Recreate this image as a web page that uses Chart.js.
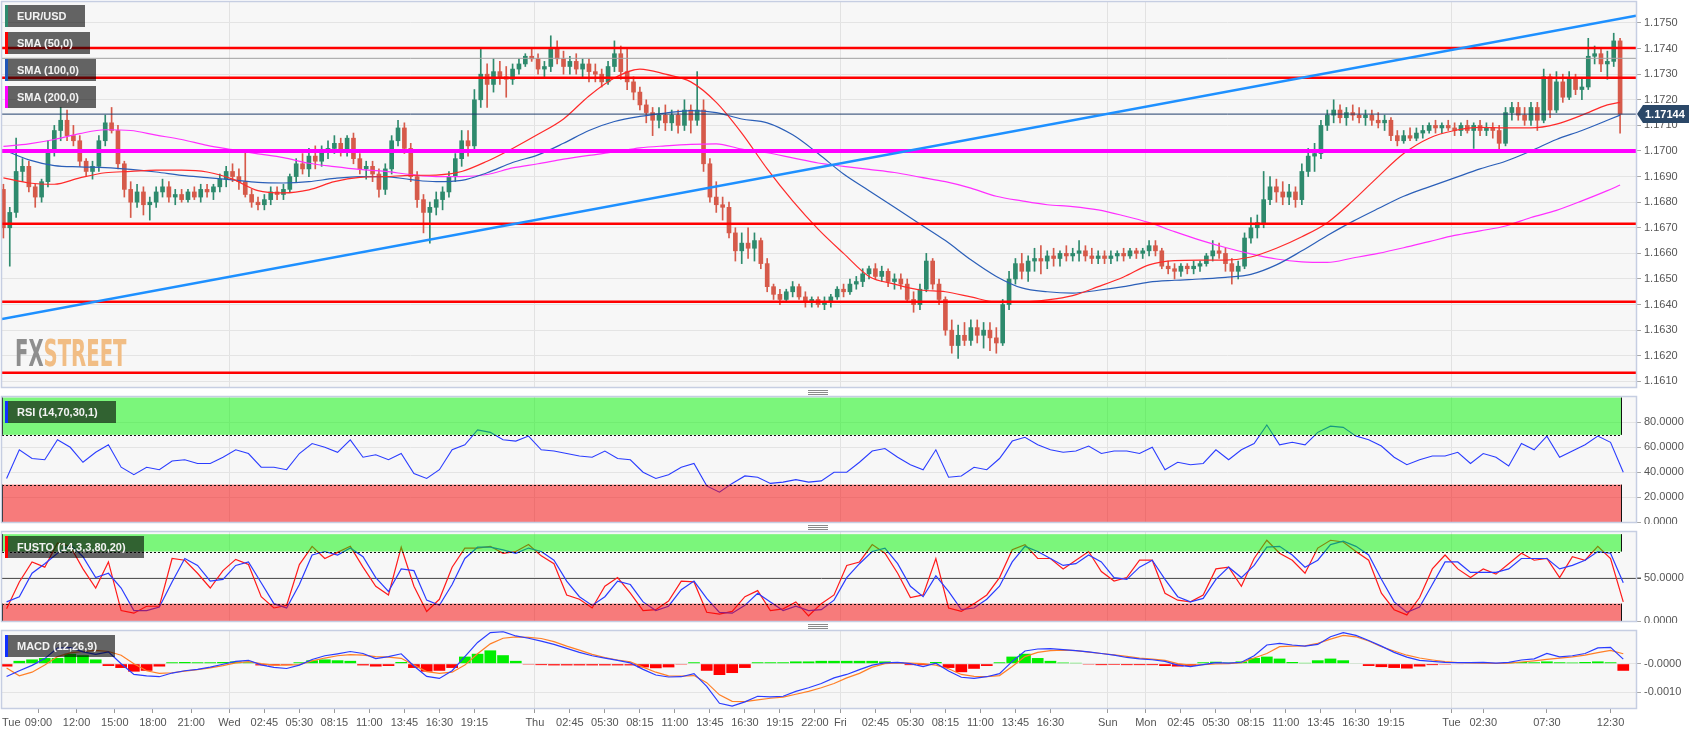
<!DOCTYPE html>
<html>
<head>
<meta charset="utf-8">
<title>EUR/USD 15m</title>
<script src="https://cdn.jsdelivr.net/npm/chart.js@4.4.1/dist/chart.umd.min.js"></script>
<style>
  body { margin: 0; background: #fff; }
  #wrap { position: relative; width: 1707px; height: 734px; overflow: hidden; font-family: "Liberation Sans", Arial, sans-serif; }
  canvas { position: absolute; left: 0; }
  .tag { position: absolute; left: 5px; height: 22px; line-height: 22px; box-sizing: border-box; padding-left: 9px;
         border-left: 3px solid; background: rgba(0,0,0,0.6); color: #f2f2f2; font-weight: bold; font-size: 11px; white-space: nowrap; }
  .grip { position: absolute; left: 808px; width: 20px; height: 5px;
          background: repeating-linear-gradient(#8a8a8a 0px, #8a8a8a 1px, transparent 1px, transparent 2px); }
  .wm { position: absolute; left: 15px; top: 335px; font: bold 37px/37px "Liberation Sans Narrow", "DejaVu Sans Condensed", sans-serif;
        transform: scaleX(0.59); transform-origin: 0 0; white-space: nowrap; }
</style>
</head>
<body>
<div id="wrap">
  <canvas id="cMain" width="1707" height="389" style="top:0"></canvas>
  <canvas id="cRsi" width="1707" height="129" style="top:395px"></canvas>
  <canvas id="cSto" width="1707" height="93" style="top:530px"></canvas>
  <canvas id="cMacd" width="1707" height="105" style="top:629px"></canvas>

  <div class="wm"><span style="color:#8e8e8e">FX</span><span style="color:#f1bd84">STREET</span></div>

  <div class="tag" style="top:5px;width:80px;border-color:#2e8b6e">EUR/USD</div>
  <div class="tag" style="top:32px;width:85px;border-color:#ff0000">SMA (50,0)</div>
  <div class="tag" style="top:59px;width:91px;border-color:#2056b8">SMA (100,0)</div>
  <div class="tag" style="top:86px;width:91px;border-color:#ff00ff">SMA (200,0)</div>
  <div class="tag" style="top:401px;width:111px;border-color:#1030ff">RSI (14,70,30,1)</div>
  <div class="tag" style="top:536px;width:139px;border-color:#ff0000">FUSTO (14,3,3,80,20)</div>
  <div class="tag" style="top:635px;width:110px;border-color:#1030ff">MACD (12,26,9)</div>

  <div class="grip" style="top:390px"></div>
  <div class="grip" style="top:525px"></div>
  <div class="grip" style="top:624px"></div>
</div>

<script>
// prices are in pips above 1.1600 (e.g. 40 -> 1.1640), MACD in pips too
const BASE = 1.16;

// x axis: trading hours since Tue 06:00 (weekend gap removed)
const X_MIN = 0.14, X_MAX = 128.5, ZONE_END = 127.4;
const tickHours = [X_MIN,3,6,9,12,15,18,20.75,23.5,26.25,29,31.75,34.5,37.25,42,44.75,47.5,50.25,53,55.75,58.5,61.25,64,66,
  68.75,71.5,74.25,77,79.75,82.5,87,90,92.75,95.5,98.25,101,103.75,106.5,109.25,114,116.5,121.5,126.5,X_MAX];
const tickLabels = ['Tue','09:00','12:00','15:00','18:00','21:00','Wed','02:45','05:30','08:15','11:00','13:45','16:30','19:15',
  'Thu','02:45','05:30','08:15','11:00','13:45','16:30','19:15','22:00','Fri','02:45','05:30','08:15','11:00','13:45','16:30',
  'Sun','Mon','02:45','05:30','08:15','11:00','13:45','16:30','19:15','Tue','02:30','07:30','12:30',''];
const dayHours = [18, 42, 66, 87, 90, 114];

// 30 minute candles
const opens = [85,70,76,92,94,86,82,88,100,108, 112,106,104,96,92,94,104,111,108,95, 85,80,84,79,80,84,86,82,83,81,
  84,82,85,84,86,89,92,90,88,83, 80,79,81,84,83,85,90,95,93,98, 96,100,101,103,100,105,97,93,94,91,
  85,93,104,109,101,90,81,76,78,81, 84,90,97,104,102,120,130,126,131,129, 128,132,134,137,136,132,133,140,136,133,
  135,132,134,131,130,127,133,138,131,127, 123,118,115,112,114,111,114,110,116,112, 116,95,82,79,78,68,61,64,62,65,
  56,47,44,42,45,47,43,41,42,40, 41,43,46,45,48,49,52,54,51,53, 49,50,48,42,40,46,57,48,42,30,
  24,28,26,31,28,30,27,25,40,50, 56,53,57,58,57,59,58,60,59,60, 61,59,58,59,58,59,60,59,61,60,
  61,63,61,55,54,53,55,54,55,56, 59,61,60,56,53,55,66,70,72,81, 86,84,82,84,81,92,98,99,110,114,
  116,113,115,114,113,114,112,111,112,106, 104,106,105,107,108,110,109,110,109,108, 110,108,110,108,109,108,103,115,117,114,
  112,117,112,129,116,127,121,128,124,125, 137,138,134,135,143];
const highs = [87,78,105,97,96,87,89,104,110,117, 116,110,106,97,96,106,114,117,110,96, 88,87,86,82,86,89,88,85,85,85,
  86,87,87,87,91,94,95,93,100,85, 82,83,86,86,87,91,97,99,101,102, 102,104,106,105,106,107,99,96,96,93,
  95,106,112,111,103,92,83,80,84,86, 92,99,108,108,124,140,134,136,135,133, 134,136,138,140,138,135,145,143,139,137,
  138,136,136,134,132,135,143,141,140,129, 125,120,117,117,118,116,116,120,118,131, 120,97,88,82,80,70,68,70,68,66,
  58,48,46,46,49,48,45,43,43,43, 44,47,48,50,51,54,55,56,55,54, 52,52,50,45,48,60,58,50,43,34,
  32,33,34,34,33,33,31,42,53,58, 60,59,62,63,61,62,61,63,62,65, 63,62,61,61,61,61,62,62,62,62,
  65,65,62,57,56,56,56,57,57,60, 65,64,62,58,57,68,74,75,92,90, 89,88,87,86,95,101,103,112,116,120,
  118,117,118,117,116,116,115,114,113,108, 108,109,109,110,111,112,111,112,111,111, 112,111,112,111,111,110,117,119,119,117,
  119,119,132,130,131,130,131,130,128,144, 141,140,139,146,144];
const lows = [66,55,74,88,84,78,80,86,98,104, 104,102,94,90,89,92,102,107,93,82, 74,78,75,73,78,82,80,79,80,80,
  81,80,82,81,84,86,88,85,82,78, 77,77,79,81,81,84,88,91,90,93, 94,97,99,98,98,95,91,89,88,82,
  83,91,102,99,88,78,68,64,75,77, 82,88,94,98,100,117,117,123,126,121, 126,130,133,135,130,129,131,134,130,130,
  130,129,127,127,125,126,131,128,124,120, 116,111,106,109,108,108,107,108,107,110, 92,80,76,73,66,57,56,58,57,54,
  45,42,40,41,43,42,39,39,39,38, 39,42,43,44,46,47,50,50,49,47, 46,46,41,37,38,45,46,40,28,21,
  19,24,24,25,23,22,21,24,38,48, 50,49,53,52,54,55,55,57,57,57, 57,56,56,56,56,57,57,58,58,58,
  59,59,54,52,50,51,52,52,53,55, 57,58,53,48,50,54,64,66,70,79, 80,79,79,78,79,90,92,97,108,111,
  111,110,112,111,110,110,109,108,104,102, 103,104,104,105,107,107,107,108,106,106, 107,101,106,106,105,100,102,112,112,110,
  110,108,111,113,115,119,120,122,120,124, 134,131,128,133,107];
const closes = [70,76,92,94,86,82,88,100,108,112, 106,104,96,92,94,104,111,108,95,85, 80,84,79,80,84,86,82,83,81,84,
  82,85,84,86,89,92,90,88,83,80, 79,81,84,83,85,90,95,93,98,96, 100,101,103,100,105,97,93,94,91,85,
  93,104,109,101,90,81,76,78,81,84, 90,97,104,102,120,130,126,131,129,128, 132,134,137,136,132,133,140,136,133,135,
  132,134,131,130,127,133,138,131,127,123, 118,115,112,114,111,114,110,116,112,116, 95,82,79,78,68,61,64,62,65,56,
  47,44,42,45,47,43,41,42,40,41, 43,46,45,48,49,52,54,51,53,49, 50,48,42,40,46,57,48,42,30,24,
  28,26,31,28,30,27,25,40,50,56, 53,57,58,57,59,58,60,59,60,61, 59,58,59,58,59,60,59,61,60,61,
  63,61,55,54,53,55,54,55,56,59, 61,60,56,53,55,66,70,72,81,86, 84,82,84,81,92,98,99,110,114,116,
  113,115,114,113,114,112,111,112,106,104, 106,105,107,108,110,109,110,109,108,110, 108,110,108,109,108,103,115,117,114,112,
  117,112,129,116,127,121,128,124,125,137, 138,134,135,143,114.4];

// moving averages, read every 4th candle (last one at the final candle)
const sma50 = [89.5,87.5,87,89.5,91.5,92,92.5,92.5,91.8,89,84.5,83.6,84.8,88,89.7,90,90.5,90.6,92,96,101,106.5,112.5,121.5,
  128.5,132,130,127,119,107,93,80.5,69.5,60,51,48,45.7,45,43,41,41,41.8,43.5,47,50.8,55.5,57.2,57.4,57.4,58.6,62,66.5,72,
  80.5,90,99,105,108,109.2,109,109,110.5,114,118,119];
const sma100 = [100.5,96.5,94.3,93.8,93.5,92.8,91.8,90.5,89.6,88.7,87.7,87.5,88,89.3,90,90,88.8,88,88.5,91.5,95.5,98.5,103,108,
  111.5,113.5,114.8,115.8,115,112.5,111,106.3,99,91,84.5,78,71.5,65,57.5,51,46.5,45,44.5,45.6,47,48.8,49.5,50,50.6,51.8,55.5,
  61,67,72.5,77.5,82.3,86,89.5,93,96,100,104.5,108,112,114];
const sma200 = [101.8,102.8,104.5,106.8,108.3,108,106.2,104.5,102.2,100.5,98.9,97.4,95.2,93.9,92.8,92,90.8,90,90,90.8,93.4,95,
  96.8,98.3,99.6,101.2,102,102.6,102.8,100.7,99.3,97.3,95.3,94,92.8,91.6,89.8,88,85.5,82.3,80.5,79,78.3,77,74.7,72,68.5,65.2,
  62.3,59.8,57.8,56.7,56.5,58.2,60,62.2,64.6,67,68.8,70.7,74,76.8,80.5,84.5,86.7];

// drawn levels (pips above 1.1600)
const redLevels = [140.2, 128.6, 71.6, 41.1, 13.4];
const pivotLevel = 100;
const grayLevel = 136.2;
const lastPrice = 114.4;
const trendLine = [[X_MIN, 34.4], [X_MAX, 152.85]];

// hourly indicator readings
const rsi = [35,58,51,50,66,60,48,56,62,44, 38,44,42,49,50,47,47,52,58,55, 44,44,42,55,63,60,56,66,52,54,
  50,55,39,35,42,58,62,74,72,66, 65,69,58,57,55,53,52,57,51,50, 40,35,38,44,47,29,24,31,37,36,
  31,32,34,32,33,40,40,48,57,59, 52,46,42,58,36,37,44,42,51,65, 68,62,58,56,57,61,55,57,57,55,
  60,42,48,46,47,58,50,58,63,78, 62,64,62,72,77,76,69,66,61,52, 46,50,53,53,56,47,55,52,45,63,
  58,69,52,57,62,69,64,40];
const stoK = [14,45,68,62,90,86,60,38,68,12, 9,17,17,72,70,55,38,58,71,65, 28,15,18,65,86,72,79,86,62,40,
  30,85,40,11,25,62,84,84,86,78, 80,88,75,66,30,25,15,40,50,32, 12,13,23,46,45,10,8,11,28,35,
  12,14,22,6,20,30,64,68,88,78, 55,27,30,72,15,11,20,30,50,82, 88,72,72,60,70,80,57,46,50,70,
  70,32,24,22,30,60,62,40,72,93, 78,70,55,84,93,91,80,70,32,13, 7,27,60,76,60,50,60,54,66,78,
  70,72,50,74,70,86,72,22];
const stoD = [22,28,55,66,78,88,74,50,55,38, 12,12,16,45,72,64,46,48,64,68, 44,20,15,42,76,80,76,84,74,50,
  34,60,58,24,18,42,72,85,85,82, 78,84,80,70,46,28,18,28,46,42, 22,12,17,36,46,26,10,9,18,32,
  22,12,17,12,13,24,50,66,80,84, 66,40,28,52,34,13,15,25,40,68, 86,80,72,64,66,76,68,50,48,62,
  70,48,28,22,26,48,62,50,64,85, 86,76,62,70,88,92,86,76,48,22, 10,16,42,68,68,56,56,56,60,72,
  72,72,60,64,70,80,78,44];
const macd = [-4.5,-2.5,-0.6,1.8,5.5,5.7,4.2,3.3,4.2,0, -3.8,-4.3,-4.6,-3.3,-2.5,-2,-1.2,-0.2,0.8,1.2,
  -0.4,-1.3,-1.7,-0.5,1.5,2.8,3.5,4.3,3.6,1.8, 2.5,3.5,-0.8,-4.5,-5.2,-2.5,2.5,7.5,11,11.3,
  9.8,9,8,6.8,5.4,4,2.8,2,1.2,0.3, -2,-4,-4.7,-4.6,-3.5,-8,-14,-15,-13.5,-11.5,
  -11.7,-11.5,-9.8,-8.5,-7,-5,-3.8,-2.1,-0.5,0.3, 0.5,0,-1,0.2,-2.6,-4.8,-5.2,-4.6,-3.5,0.8,
  4.5,5.2,5.3,5,4.6,4.2,3.6,3,2.2,1.7, 1.4,0.8,-0.5,-1,-0.3,0.4,0.2,0.5,2.8,6.6,
  7.2,6.6,6.2,6.8,9.5,11,10,8.2,6.2,4, 2.3,1.2,0.8,0.5,0.4,0.4,0.5,0.2,0.5,1.3, 1.7,3.6,2.4,2.8,3.6,5.6,5.8,1.6];
const signal = [-1.5,-4.3,-3,-0.5,2.5,3.8,4.3,4.7,4.3,3, 0,-2.5,-3.4,-3.2,-2.6,-2.1,-1.5,-0.7,0.3,0.7,
  0,-0.5,-0.5,-0.3,1,2,2.8,3.2,3,2.5, 2.3,1.9,-0.5,-2.8,-3.4,-3,-0.5,3.5,7,9,
  9.5,9.3,8.9,7.8,6.2,4.8,3.3,2.2,1.3,0.7, -1.2,-3,-4.3,-4.4,-4.2,-6.7,-11,-13.3,-13.4,-12.8,
  -12.2,-11.8,-10.8,-9.8,-8.5,-7,-5,-3.4,-1.2,0, 0.3,0.2,0,-0.5,-1.8,-3.8,-4.5,-4.6,-4.2,-1,
  2.5,4,4.6,4.8,4.6,4.1,3.6,3.1,2.6,2, 1.6,1.2,0,-0.5,-0.3,-0.1,0,0.4,2,3.6,
  6,6.2,6.3,7.2,8.7,10,9.5,8,6,4.5, 3,2,1.3,0.7,0.4,0.3,0.2,0.1,0.2,0.6, 1,1.5,2,2.4,3,3.9,4.7,3.5];
const hist = [-1,1,1.5,2,2,3.5,3,1.5,-0.8,-1.5, -2.8,-2.5,-1,0.5,0.6,0.5,0.5,0.6,0.8,0.5,
  -0.6,-0.6,-0.4,0.5,1.2,1.5,1.2,1,-0.6,-1, -0.8,0.6,-1.5,-2.8,-2.5,-1.5,2.5,3.5,4.7,3,
  1,-0.3,-0.5,-0.6,-0.6,-0.6,-0.6,-0.6,-0.6,-0.6, -1.3,-1.6,-1.3,-0.3,0.5,-2.5,-4,-3.3,-1.5,0.5,
  0.5,0.5,0.8,0.8,1,1,1,1,1,0.8, 0.5,-0.5,-0.5,0.6,-1.5,-3,-1.8,-0.8,0.5,2.5,
  3.5,2,1,0.4,0.3,-0.3,-0.5,-0.4,-0.5,-0.5, -0.5,-0.8,-1,-0.8,0.5,0.7,0.4,0.8,2,2.5,
  1.8,0.6,0.3,1.2,1.8,1.2,0.2,-0.8,-1.2,-1.5, -1.7,-1,-0.5,-0.3,-0.2,0.2,0.2,0.2,0.5,0.6, 0.5,0.8,0.5,0.4,0.6,0.8,0.5,-2.5];

const priceTicks = [10,20,30,40,50,60,70,80,90,100,110,120,130,140,150];
const oscTicks = [0,20,40,60,80];
const stoTicks = [0,50];
const macdTicks = [-10,0];

const BULL = '#2e8a6d', BEAR = '#d65a4a';
const candleHour = k => 0.25 + 0.5 * k;
const indHour = i => 0.5 + i;
const smaPoints = arr => arr.map((v, j) => ({ x: candleHour(Math.min(j * 4, closes.length - 1)), y: v }));
const hLine = v => [{ x: X_MIN, y: v }, { x: X_MAX, y: v }];

Chart.defaults.font.family = '"Liberation Sans", Arial, sans-serif';
Chart.defaults.font.size = 11;
Chart.defaults.color = '#555';
Chart.defaults.animation = false;

const panelPlugin = {
  id: 'panel',
  beforeDraw(chart) {
    const { ctx, chartArea: a } = chart;
    ctx.save();
    ctx.fillStyle = '#f7f7f7';
    ctx.fillRect(a.left, a.top, a.width, a.height);
    ctx.restore();
  },
  afterDraw(chart) {
    const { ctx, chartArea: a } = chart;
    ctx.save();
    ctx.strokeStyle = '#c6cee2';
    ctx.lineWidth = 1.5;
    ctx.strokeRect(a.left - 0.5, a.top - 0.5, a.width + 1, a.height + 1);
    ctx.restore();
  }
};

const zonePlugin = {
  id: 'zones',
  beforeDatasetsDraw(chart, args, o) {
    if (o.mid == null) return;
    const { ctx, chartArea: a, scales: { y } } = chart;
    const py = Math.round(y.getPixelForValue(o.mid)) + 0.5;
    ctx.save();
    ctx.strokeStyle = '#555';
    ctx.lineWidth = 1;
    ctx.beginPath(); ctx.moveTo(a.left, py); ctx.lineTo(a.right + 5, py); ctx.stroke();
    ctx.restore();
  },
  afterDatasetsDraw(chart, args, o) {
    if (!o.hi) return;
    const { ctx, scales: { x, y } } = chart;
    const x0 = x.getPixelForValue(X_MIN), x1 = x.getPixelForValue(ZONE_END);
    ctx.save();
    [[o.hi, 'rgba(0,245,0,0.5)', o.hi[0]], [o.lo, 'rgba(248,0,0,0.5)', o.lo[1]]].forEach(([r, col, edge]) => {
      const ya = y.getPixelForValue(r[1]), yb = y.getPixelForValue(r[0]);
      ctx.fillStyle = col;
      ctx.fillRect(x0, ya, x1 - x0, yb - ya);
      ctx.strokeStyle = '#111';
      ctx.lineWidth = 1;
      ctx.beginPath();
      ctx.moveTo(x0 + 0.5, ya); ctx.lineTo(x0 + 0.5, yb);
      ctx.moveTo(x1 - 0.5, ya); ctx.lineTo(x1 - 0.5, yb);
      ctx.stroke();
      const ye = Math.round(y.getPixelForValue(edge)) + 0.5;
      ctx.setLineDash([2, 2]);
      ctx.beginPath(); ctx.moveTo(x0, ye); ctx.lineTo(x1, ye); ctx.stroke();
      ctx.setLineDash([]);
    });
    ctx.restore();
  }
};

const lastPricePlugin = {
  id: 'lastPrice',
  afterDraw(chart) {
    const { ctx, chartArea: a, scales: { y } } = chart;
    const py = y.getPixelForValue(lastPrice);
    const x0 = a.right + 1;
    ctx.save();
    ctx.fillStyle = '#2b4868';
    ctx.beginPath();
    ctx.moveTo(x0, py); ctx.lineTo(x0 + 6, py - 9); ctx.lineTo(x0 + 52, py - 9);
    ctx.lineTo(x0 + 52, py + 9); ctx.lineTo(x0 + 6, py + 9); ctx.closePath();
    ctx.fill();
    ctx.fillStyle = '#fff';
    ctx.font = 'bold 11px "Liberation Sans", Arial, sans-serif';
    ctx.textBaseline = 'middle';
    ctx.fillText((BASE + lastPrice / 10000).toFixed(5), x0 + 8, py + 0.5);
    ctx.restore();
  }
};

function xAxis(showLabels) {
  return {
    type: 'linear', min: X_MIN, max: X_MAX, offset: false,
    afterBuildTicks: s => { s.ticks = tickHours.map(v => ({ value: v })); },
    afterFit: s => { s.height = showLabels ? 26 : 0; s.paddingLeft = 0; s.paddingRight = 0; },
    border: { display: false },
    grid: {
      offset: false,
      color: c => (c.tick && dayHours.includes(c.tick.value)) ? '#e2e2e2' : 'rgba(0,0,0,0)',
      drawTicks: showLabels, tickLength: 5,
      tickColor: c => (c.index === 0 || c.index === tickHours.length - 1) ? 'rgba(0,0,0,0)' : '#9a9a9a'
    },
    ticks: {
      display: showLabels, autoSkip: false, maxRotation: 0, align: 'inner', padding: 3,
      callback: (v, i) => tickLabels[i], color: '#555', font: { size: 11 }
    }
  };
}

function yAxis(min, max, ticks, fmt) {
  return {
    position: 'right', min, max,
    afterBuildTicks: s => { s.ticks = ticks.map(v => ({ value: v })); },
    afterFit: s => { s.width = 71; s.paddingTop = 0; s.paddingBottom = 0; },
    border: { display: false },
    grid: { color: '#e4e4e4', tickColor: '#a8a8a8', tickLength: 5 },
    ticks: { callback: fmt, autoSkip: false, padding: 3, color: '#555', font: { size: 11 } }
  };
}

function build(id, datasets, y, showX, pad, zones, extra) {
  return new Chart(document.getElementById(id), {
    data: { datasets },
    options: {
      responsive: false, animation: false, events: [],
      layout: { padding: pad },
      datasets: { bar: { grouped: false } },
      scales: { x: xAxis(showX), y },
      plugins: { legend: { display: false }, tooltip: { enabled: false }, zones: zones || {} }
    },
    plugins: [panelPlugin, zonePlugin].concat(extra || [])
  });
}

// ---- main price panel
const line = (data, color, width, order, smooth) => ({
  type: 'line', data, borderColor: color, borderWidth: width, pointRadius: 0, fill: false, order,
  cubicInterpolationMode: smooth ? 'monotone' : 'default'
});
const candleColor = c => closes[c.dataIndex] >= opens[c.dataIndex] ? BULL : BEAR;

const mainSets = [
  line(trendLine.map(([x, y]) => ({ x, y })), '#1e90ff', 2.5, 1),
  ...redLevels.map(v => line(hLine(v), '#ff0000', 2.5, 2)),
  line(hLine(pivotLevel), '#ff00ff', 4, 2),
  line(hLine(grayLevel), '#a0a0a0', 1, 3),
  line(hLine(lastPrice), '#1f3d6b', 1, 3),
  line(smaPoints(sma50), '#ff2a2a', 1.2, 4, true),
  line(smaPoints(sma100), '#2b5fb8', 1.2, 4, true),
  line(smaPoints(sma200), '#ff30ff', 1.2, 4, true),
  { type: 'bar', order: 8, barThickness: 4, minBarLength: 1, borderWidth: 0, backgroundColor: candleColor,
    data: opens.map((o, k) => ({ x: candleHour(k), y: [o, closes[k]] })) },
  { type: 'bar', order: 9, barThickness: 1, borderWidth: 0, backgroundColor: candleColor,
    data: lows.map((l, k) => ({ x: candleHour(k), y: [l, highs[k]] })) }
];
build('cMain', mainSets, yAxis(7.8, 158.2, priceTicks, v => (BASE + v / 10000).toFixed(4)), false,
  { left: 2, top: 2, right: 0, bottom: 2 }, null, [lastPricePlugin]);

// ---- RSI
build('cRsi', [line(rsi.map((v, i) => ({ x: indHour(i), y: v })), '#2a3cff', 1.1, 1)],
  yAxis(0, 100.4, oscTicks, v => v.toFixed(4)), false,
  { left: 2, top: 2, right: 0, bottom: 2 }, { hi: [70, 100], lo: [0, 30] });

// ---- FUSTO
build('cSto', [
    line(stoD.map((v, i) => ({ x: indHour(i), y: v })), '#2a3cff', 1.2, 1),
    line(stoK.map((v, i) => ({ x: indHour(i), y: v })), '#ff1a1a', 1.2, 2)
  ],
  yAxis(0, 102.5, stoTicks, v => v.toFixed(4)), false,
  { left: 2, top: 2, right: 0, bottom: 2 }, { hi: [80, 100], lo: [0, 20], mid: 50 });

// ---- MACD
build('cMacd', [
    line(macd.map((v, i) => ({ x: indHour(i), y: v })), '#2a3cff', 1.2, 1),
    line(signal.map((v, i) => ({ x: indHour(i), y: v })), '#ff7f27', 1.2, 2),
    { type: 'bar', order: 5, borderWidth: 0, categoryPercentage: 0.92, barPercentage: 1,
      backgroundColor: c => hist[c.dataIndex] >= 0 ? '#00ee00' : '#ff0000',
      data: hist.map((v, i) => ({ x: indHour(i), y: v })) }
  ],
  yAxis(-15.65, 11.55, macdTicks, v => v === 0 ? '-0.0000' : (v / 10000).toFixed(4)), true,
  { left: 2, top: 2, right: 0, bottom: 0 });
</script>
</body>
</html>
